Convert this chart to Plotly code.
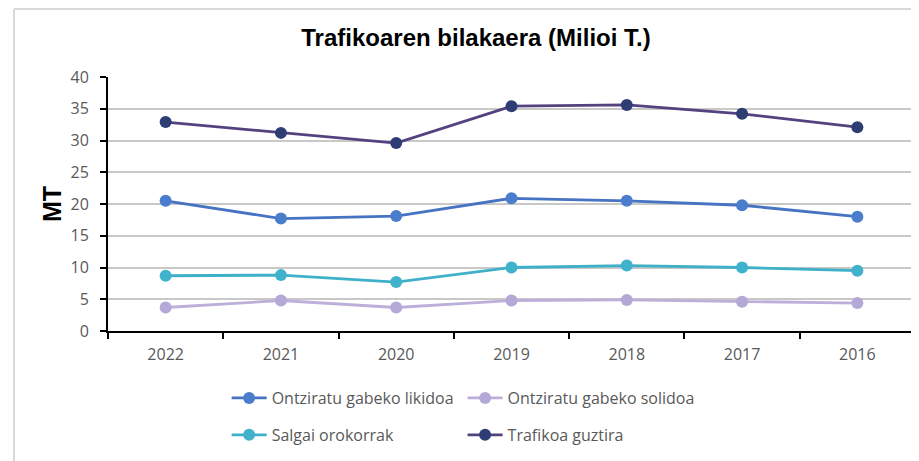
import plotly.graph_objects as go

years = ["2022", "2021", "2020", "2019", "2018", "2017", "2016"]
likidoa = [20.5, 17.7, 18.1, 20.9, 20.5, 19.8, 18.0]
solidoa = [3.7, 4.8, 3.7, 4.8, 4.9, 4.6, 4.4]
salgai = [8.7, 8.8, 7.7, 10.0, 10.3, 10.0, 9.5]
guztira = [32.9, 31.2, 29.6, 35.4, 35.6, 34.2, 32.1]

SERIES = [
    ("Ontziratu gabeko likidoa", likidoa, "#4673c2", "#4a7dcb"),
    ("Ontziratu gabeko solidoa", solidoa, "#bcb0da", "#b4a8d6"),
    ("Salgai orokorrak", salgai, "#3eb0c8", "#40b2cc"),
    ("Trafikoa guztira", guztira, "#54427f", "#2e3d73"),
]

TEXT_GRAY = "#595959"
FONT = "Open Sans, sans-serif"
BOLD_FONT = "Liberation Sans, Arial, sans-serif"

# one legend per entry, laid out as a 2x2 grid (paper coords)
LEGEND_POS = [(0.147, -0.264), (0.4394, -0.264), (0.147, -0.409), (0.4394, -0.409)]
LEGEND_IDS = ["legend2", "legend3", "legend4", "legend5"]

fig = go.Figure()
for (name, vals, line_color, marker_color), leg in zip(SERIES, LEGEND_IDS):
    fig.add_trace(
        go.Scatter(
            x=years,
            y=vals,
            name=name,
            mode="lines+markers",
            line=dict(color=line_color, width=2.8),
            marker=dict(color=marker_color, size=12),
            legend=leg,
            showlegend=True,
        )
    )

legends = {}
for leg, (lx, ly) in zip(LEGEND_IDS, LEGEND_POS):
    legends[leg] = dict(
        orientation="h",
        xanchor="left",
        yanchor="middle",
        x=lx,
        y=ly,
        itemwidth=35,
        font=dict(family=FONT, size=16, color=TEXT_GRAY),
        bgcolor="rgba(0,0,0,0)",
    )

# the page body has an 8px margin, so the layout is offset by that
fig.update_layout(
    width=919,
    height=461,
    showlegend=True,
    paper_bgcolor="white",
    plot_bgcolor="white",
    margin=dict(l=100, r=12, t=69, b=138),
    font=dict(family=FONT, color=TEXT_GRAY),
    title=dict(
        text="<b>Trafikoaren bilakaera (Milioi T.)</b>",
        x=468 / 919,
        xanchor="center",
        y=1 - 30 / 461,
        yanchor="middle",
        font=dict(family=BOLD_FONT, size=24, color="black"),
    ),
    **legends,
    xaxis=dict(
        type="category",
        range=[-0.5, 6.5],
        showline=True,
        linecolor="black",
        linewidth=2,
        ticks="outside",
        tickson="boundaries",
        ticklen=6,
        tickwidth=2,
        tickcolor="black",
        ticklabelstandoff=8,
        showgrid=False,
        tickfont=dict(family=FONT, size=16, color=TEXT_GRAY),
    ),
    yaxis=dict(
        range=[0, 40],
        dtick=5,
        showline=True,
        linecolor="black",
        linewidth=2,
        ticks="outside",
        ticklen=6,
        tickwidth=2,
        tickcolor="black",
        ticklabelstandoff=8,
        showgrid=True,
        gridcolor="#c8c8c8",
        gridwidth=1.5,
        zeroline=False,
        tickfont=dict(family=FONT, size=16, color=TEXT_GRAY),
    ),
)

fig.add_annotation(
    text="<b>MT</b>",
    xref="paper",
    yref="paper",
    x=(44 - 100) / 807,
    xanchor="center",
    y=0.5,
    yanchor="middle",
    textangle=-90,
    showarrow=False,
    font=dict(family=BOLD_FONT, size=25, color="black"),
)

# chart frame (only top and left edges are visible in the crop)
fig.add_shape(type="line", xref="paper", yref="paper", x0=-0.1165, x1=-0.1165,
              y0=1.268, y1=-0.55, line=dict(color="#d9d9d9", width=2))
fig.add_shape(type="line", xref="paper", yref="paper", x0=-0.1165, x1=1.02,
              y0=1.268, y1=1.268, line=dict(color="#d9d9d9", width=2))

fig.write_html("out.html")
